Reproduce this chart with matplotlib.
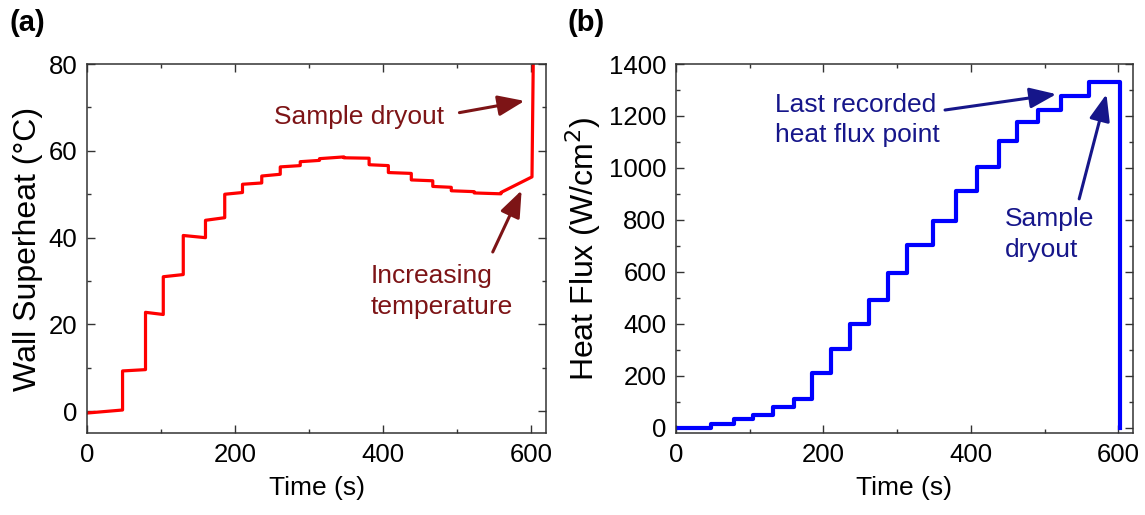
import numpy as np
import matplotlib
matplotlib.use('Agg')
from matplotlib import pyplot as plt
from matplotlib.ticker import MultipleLocator

matplotlib.rcParams['font.family'] = ['Liberation Sans', 'DejaVu Sans']
matplotlib.rcParams['font.size'] = 18

# wall superheat: step start times (s) with level at start / end of each step
sh_t = [0, 48, 79, 103, 130, 160, 186, 210, 236, 261, 288, 314, 347,
        381, 407, 438, 467, 492, 523, 559, 601]
sh_start = [-0.4, 9.3, 22.8, 31.0, 40.5, 44.0, 50.0, 52.3, 54.2, 56.3, 57.5,
            58.2, 58.4, 56.8, 55.0, 53.3, 51.8, 50.8, 50.3, 50.4]
sh_end = [0.3, 9.6, 22.3, 31.5, 40.0, 44.6, 50.4, 52.6, 54.6, 56.6, 57.8,
          58.6, 58.3, 56.6, 54.8, 53.1, 51.6, 50.6, 50.1, 54.0]
sh_dry_t = 603
sh_dry_val = 85

# heat flux steps (W/cm2)
hf_t = [0, 48, 79, 104, 131, 160, 185, 210, 236, 262, 288, 314, 348, 380,
        408, 438, 463, 491, 523, 561]
hf = [0, 15, 33, 51, 80, 109, 210, 303, 398, 492, 594, 705, 795, 913, 1003,
      1102, 1175, 1223, 1278, 1331]
hf_dry_t = 601
hf_end_t = 602


def superheat_curve():
    xs, ys = [], []
    for i in range(len(sh_start)):
        xs += [sh_t[i], sh_t[i + 1]]
        ys += [sh_start[i], sh_end[i]]
    xs.append(sh_dry_t)
    ys.append(sh_dry_val)
    return xs, ys


def heatflux_curve():
    xs = list(hf_t) + [hf_dry_t, hf_end_t]
    ys = list(hf) + [hf[-1], 0]
    return xs, ys


def style_axes(ax):
    ax.tick_params(which='both', direction='in', top=True, right=True,
                   labelsize=18.5, width=1, color='#333333')
    ax.tick_params(which='major', length=6, pad=7)
    ax.tick_params(which='minor', length=3)
    for s in ax.spines.values():
        s.set_linewidth(1.1)
        s.set_color('#333333')
    ax.xaxis.set_major_locator(MultipleLocator(200))
    ax.xaxis.set_minor_locator(MultipleLocator(100))
    ax.set_xlim(0, 620)
    ax.set_xlabel('Time (s)', fontsize=19, labelpad=7)


fig = plt.figure(figsize=(11.45, 5.15), dpi=100)
ax1 = fig.add_axes([0.0760, 0.1592, 0.4009, 0.7165])
ax2 = fig.add_axes([0.5904, 0.1592, 0.3991, 0.7165])

# (a) wall superheat
red_txt = '#7d1416'
x, y = superheat_curve()
ax1.plot(x, y, color='#ff0000', lw=2.3)
ax1.set_ylim(-5, 80)
ax1.yaxis.set_major_locator(MultipleLocator(20))
ax1.yaxis.set_minor_locator(MultipleLocator(10))
ax1.set_ylabel('Wall Superheat (°C)', fontsize=23, labelpad=4)
style_axes(ax1)

arrow_red = dict(arrowstyle='-|>,head_length=0.9,head_width=0.35',
                 color=red_txt, lw=2.2, shrinkA=0, shrinkB=0)
ax1.text(252, 67.8, 'Sample dryout', color=red_txt, fontsize=19,
         ha='left', va='center')
ax1.annotate('', xy=(591, 71.5), xytext=(503, 68.8), arrowprops=arrow_red)
ax1.text(383, 27.6, 'Increasing\ntemperature', color=red_txt, fontsize=19,
         ha='left', va='center', linespacing=1.35)
ax1.annotate('', xy=(587, 50.9), xytext=(548, 36.7), arrowprops=arrow_red)

# (b) heat flux
blue_txt = '#16168a'
x, y = heatflux_curve()
ax2.plot(x, y, color='#0000ff', lw=3, drawstyle='steps-post')
ax2.set_ylim(-20, 1400)
ax2.yaxis.set_major_locator(MultipleLocator(200))
ax2.yaxis.set_minor_locator(MultipleLocator(100))
ax2.set_ylabel('Heat Flux (W/cm$^2$)', fontsize=23, labelpad=4)
style_axes(ax2)

arrow_blue = dict(arrowstyle='-|>,head_length=0.9,head_width=0.35',
                  color=blue_txt, lw=2.2, shrinkA=0, shrinkB=0)
ax2.text(134, 1184, 'Last recorded\nheat flux point', color=blue_txt,
         fontsize=19, ha='left', va='center', linespacing=1.35)
ax2.annotate('', xy=(516, 1284), xytext=(365, 1223), arrowprops=arrow_blue)
ax2.text(446, 744, 'Sample\ndryout', color=blue_txt, fontsize=19,
         ha='left', va='center', linespacing=1.35)
ax2.annotate('', xy=(584, 1284), xytext=(547, 881), arrowprops=arrow_blue)

fig.text(0.008, 0.955, '(a)', fontsize=21, fontweight='bold', va='center')
fig.text(0.496, 0.955, '(b)', fontsize=21, fontweight='bold', va='center')

fig.savefig('out.png', dpi=100)
